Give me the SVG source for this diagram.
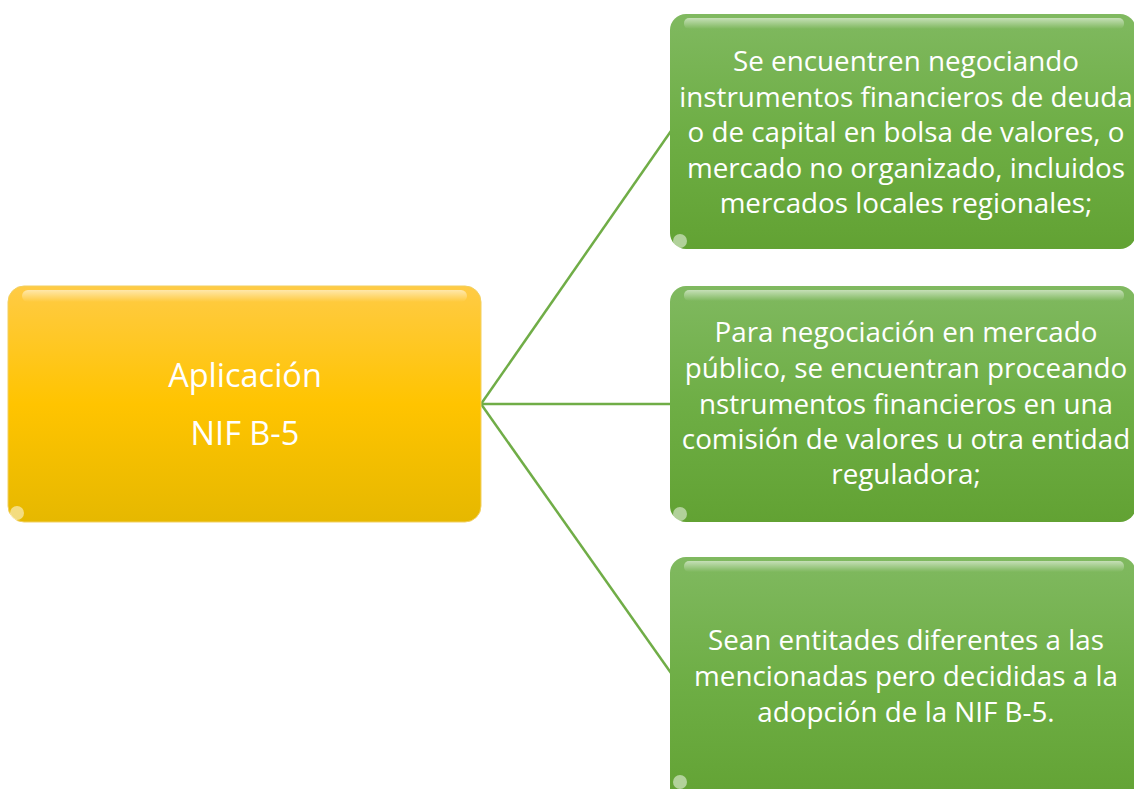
<svg xmlns="http://www.w3.org/2000/svg" width="1134" height="789" viewBox="0 0 1134 789">
<defs>
<linearGradient id="gy" x1="0" y1="0" x2="0" y2="1">
<stop offset="0" stop-color="#FFCB45"/>
<stop offset="0.5" stop-color="#FFC400"/>
<stop offset="1" stop-color="#E6B800"/>
</linearGradient>
<linearGradient id="gg" x1="0" y1="0" x2="0" y2="1">
<stop offset="0" stop-color="#80B960"/>
<stop offset="0.5" stop-color="#6EAE45"/>
<stop offset="1" stop-color="#62A233"/>
</linearGradient>
<linearGradient id="gl" x1="0" y1="0" x2="0" y2="1">
<stop offset="0" stop-color="#ffffff" stop-opacity="0.55"/>
<stop offset="1" stop-color="#ffffff" stop-opacity="0"/>
</linearGradient>
</defs>
<style>
.t{font-family:"Open Sans","Noto Sans",sans-serif;fill:#ffffff;text-anchor:middle}
.g{font-size:27.8px}
.y{font-size:32.5px}
.c{stroke:#70AD47;stroke-width:2.5;fill:none}
.hl{fill:url(#gl)}
.dot{fill:#ffffff;fill-opacity:0.5}
</style>
<rect width="1134" height="789" fill="#ffffff"/>
<g id="connectors">
<line class="c" x1="481" y1="404" x2="671" y2="131"/>
<line class="c" x1="481" y1="404" x2="671" y2="404"/>
<line class="c" x1="481" y1="404" x2="671" y2="673"/>
</g>
<g id="node-aplicacion">
<rect x="8" y="286" width="473" height="236" rx="16" fill="url(#gy)" stroke="#F2D060" stroke-width="1"/>
<rect x="22" y="290" width="445" height="12" rx="6" class="hl"/>
<ellipse cx="17" cy="513" rx="7" ry="7" class="dot"/>
<text class="t y" x="245" y="387">Aplicación</text>
<text class="t y" x="245" y="445">NIF B-5</text>
</g>
<g id="node-1">
<rect x="670" y="14" width="466" height="235" rx="16" fill="url(#gg)"/>
<rect x="684" y="18" width="440" height="11" rx="5" class="hl"/>
<ellipse cx="680" cy="241" rx="7" ry="7" class="dot"/>
<text class="t g" x="906" y="71">Se encuentren negociando</text>
<text class="t g" x="906" y="107">instrumentos financieros de deuda</text>
<text class="t g" x="906" y="142">o de capital en bolsa de valores, o</text>
<text class="t g" x="906" y="178">mercado no organizado, incluidos</text>
<text class="t g" x="906" y="213">mercados locales regionales;</text>
</g>
<g id="node-2">
<rect x="670" y="286" width="466" height="236" rx="16" fill="url(#gg)"/>
<rect x="684" y="290" width="440" height="11" rx="5" class="hl"/>
<ellipse cx="680" cy="514" rx="7" ry="7" class="dot"/>
<text class="t g" x="906" y="342">Para negociación en mercado</text>
<text class="t g" x="906" y="378">público, se encuentran proceando</text>
<text class="t g" x="906" y="414">nstrumentos financieros en una</text>
<text class="t g" x="906" y="449">comisión de valores u otra entidad</text>
<text class="t g" x="906" y="484">reguladora;</text>
</g>
<g id="node-3">
<rect x="670" y="557" width="466" height="250" rx="16" fill="url(#gg)"/>
<rect x="684" y="561" width="440" height="11" rx="5" class="hl"/>
<ellipse cx="680" cy="782" rx="7" ry="7" class="dot"/>
<text class="t g" x="906" y="650">Sean entitades diferentes a las</text>
<text class="t g" x="906" y="686">mencionadas pero decididas a la</text>
<text class="t g" x="906" y="722">adopción de la NIF B-5.</text>
</g>
</svg>
